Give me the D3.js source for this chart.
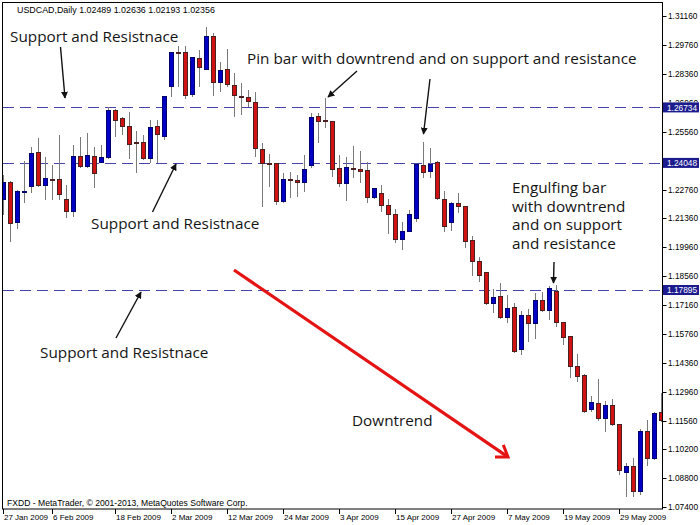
<!DOCTYPE html>
<html><head><meta charset="utf-8">
<script src="https://cdn.jsdelivr.net/npm/d3@7"></script>
<style>body{margin:0;background:#fff}svg{display:block}</style>
</head><body>
<svg id="c" width="700" height="525"></svg>
<script>
// ---- data ----
const symbolTitle = "USDCAD,Daily  1.02489 1.02636 1.02193 1.02356";
const footerText = "FXDD - MetaTrader, \u00A9 2001-2013, MetaQuotes Software Corp.";
const open = [1.2226,1.2308,1.2115,1.2260,1.2289,1.2454,1.2294,1.2323,1.2323,1.2226,
1.2168,1.2434,1.2386,1.2434,1.2405,1.2429,1.2657,1.2618,1.2579,1.2502,
1.2502,1.2424,1.2579,1.2531,1.2773,1.2938,1.2938,1.2734,1.2908,1.2855,
1.3015,1.2792,1.2855,1.2778,1.2725,1.2720,1.2696,1.2468,1.2400,1.2400,
1.2216,1.2323,1.2318,1.2308,1.2391,1.2628,1.2608,1.2604,1.2376,1.2303,
1.2376,1.2371,1.2366,1.2236,1.2255,1.2197,1.2153,1.2032,1.2071,1.2134,
1.2391,1.2362,1.2405,1.2226,1.2115,1.2207,1.2192,1.2028,1.1926,1.1873,
1.1723,1.1757,1.1655,1.1703,1.1500,1.1665,1.1626,1.1737,1.1689,1.1781,
1.1631,1.1563,1.1418,1.1374,1.1210,1.1239,1.1166,1.1229,1.1137,1.0905,
1.0934,1.0813,1.1103,1.0972,1.1195];
const high = [1.2347,1.2318,1.2274,1.2415,1.2483,1.2526,1.2434,1.2395,1.2541,1.2299,
1.2492,1.2531,1.2550,1.2483,1.2492,1.2676,1.2666,1.2628,1.2652,1.2560,
1.2541,1.2613,1.2613,1.2729,1.2942,1.2971,1.2971,1.2918,1.2952,1.3063,
1.3034,1.2894,1.2957,1.2841,1.2792,1.2758,1.2749,1.2502,1.2449,1.2405,
1.2357,1.2362,1.2347,1.2444,1.2647,1.2647,1.2720,1.2604,1.2444,1.2434,
1.2487,1.2463,1.2410,1.2284,1.2299,1.2231,1.2182,1.2120,1.2178,1.2400,
1.2507,1.2478,1.2415,1.2270,1.2216,1.2260,1.2197,1.2052,1.1950,1.1878,
1.1795,1.1824,1.1766,1.1728,1.1689,1.1698,1.1776,1.1781,1.1810,1.1815,
1.1636,1.1568,1.1481,1.1384,1.1277,1.1360,1.1253,1.1263,1.1142,1.0953,
1.0977,1.1118,1.1161,1.1200,1.1292];
const low = [1.2153,1.2023,1.2086,1.2212,1.2260,1.2289,1.2226,1.2226,1.2226,1.2139,
1.2144,1.2381,1.2381,1.2284,1.2405,1.2424,1.2531,1.2541,1.2424,1.2357,
1.2420,1.2405,1.2405,1.2516,1.2725,1.2773,1.2715,1.2725,1.2773,1.2855,
1.2729,1.2749,1.2773,1.2628,1.2637,1.2676,1.2434,1.2192,1.2289,1.2202,
1.2212,1.2236,1.2241,1.2265,1.2381,1.2502,1.2575,1.2337,1.2289,1.2221,
1.2333,1.2308,1.2212,1.2231,1.2168,1.2061,1.2018,1.1984,1.2071,1.2120,
1.2333,1.2333,1.2226,1.2071,1.2076,1.2163,1.1994,1.1858,1.1829,1.1718,
1.1679,1.1650,1.1631,1.1486,1.1476,1.1539,1.1553,1.1684,1.1645,1.1611,
1.1524,1.1365,1.1345,1.1195,1.1200,1.1156,1.1103,1.1132,1.0895,1.0789,
1.0789,1.0798,1.0939,1.0968,1.1152];
const close = [1.2308,1.2110,1.2265,1.2265,1.2449,1.2294,1.2328,1.2318,1.2250,1.2168,
1.2434,1.2386,1.2439,1.2352,1.2429,1.2657,1.2608,1.2579,1.2492,1.2497,
1.2424,1.2575,1.2541,1.2725,1.2938,1.2933,1.2729,1.2913,1.2865,1.3015,
1.2792,1.2850,1.2783,1.2729,1.2720,1.2700,1.2473,1.2400,1.2395,1.2216,
1.2323,1.2318,1.2308,1.2371,1.2623,1.2604,1.2604,1.2371,1.2303,1.2381,
1.2371,1.2362,1.2236,1.2279,1.2197,1.2153,1.2032,1.2071,1.2153,1.2395,
1.2357,1.2395,1.2231,1.2095,1.2207,1.2192,1.2023,1.1926,1.1858,1.1723,
1.1752,1.1655,1.1698,1.1490,1.1665,1.1626,1.1737,1.1689,1.1795,1.1631,
1.1558,1.1418,1.1369,1.1200,1.1244,1.1166,1.1229,1.1137,1.0914,1.0934,
1.0813,1.1103,1.0972,1.1190,1.1156];
const xTickLabels = ["27 Jan 2009","6 Feb 2009","18 Feb 2009","2 Mar 2009","12 Mar 2009","24 Mar 2009",
  "3 Apr 2009","15 Apr 2009","27 Apr 2009","7 May 2009","19 May 2009","29 May 2009"];
const xTickIndex = [0,7,16,24,32,40,48,56,64,72,80,88];
const yTicks = [1.31160,1.29760,1.28360,1.26960,1.25560,1.24160,1.22760,1.21360,1.19960,
  1.18560,1.17160,1.15760,1.14360,1.12960,1.11560,1.10200,1.08800,1.07400];
const levels = [1.26734,1.24048,1.17895];

// ---- layout ----
const svg = d3.select("#c");
const P = {l:3, t:3, r:662.5, b:509};
const x = d3.scaleLinear().domain([0, open.length-1]).range([2.7, 2.7 + 7*(open.length-1)]);
const y = d3.scaleLinear().domain([1.074, 1.3116]).range([506.8, 16]);
const smallFont = "'Liberation Sans', Arial, sans-serif";
const bigFont = "'Open Sans', 'Noto Sans', sans-serif";

svg.append("rect").attr("width",700).attr("height",525).attr("fill","#fff");
svg.append("defs").append("clipPath").attr("id","plotclip")
  .append("rect").attr("x",P.l).attr("y",P.t).attr("width",P.r-P.l).attr("height",P.b-P.t);

const plot = svg.append("g").attr("clip-path","url(#plotclip)");

// level lines
plot.selectAll("line.lvl").data(levels).join("line")
  .attr("x1",P.l).attr("x2",P.r)
  .attr("y1",d=>Math.round(y(d))+0.5).attr("y2",d=>Math.round(y(d))+0.5)
  .attr("stroke","#4444aa").attr("stroke-width",1).attr("stroke-dasharray","11,6");

// candles
const data = open.map((o,i)=>({i,o,h:high[i],l:low[i],c:close[i]}));
const cg = plot.append("g").attr("shape-rendering","crispEdges");
const cand = cg.selectAll("g").data(data).join("g");
cand.append("line")
  .attr("x1",d=>Math.round(x(d.i))+0.5).attr("x2",d=>Math.round(x(d.i))+0.5)
  .attr("y1",d=>y(d.h)).attr("y2",d=>y(d.l))
  .attr("stroke","#7a7a7a").attr("stroke-width",1);
cand.append("rect")
  .attr("x",d=>Math.round(x(d.i))-1.5)
  .attr("width",4)
  .attr("y",d=>Math.min(y(d.o),y(d.c)))
  .attr("height",d=>Math.max(0.6,Math.abs(y(d.o)-y(d.c))))
  .attr("fill",d=>d.c>=d.o?"#0000c4":"#d01212")
  .attr("stroke",d=>d.c>=d.o?"#00006e":"#4a2020")
  .attr("stroke-width",1);

// frame
svg.append("rect").attr("x",P.l-0.5).attr("y",P.t-0.5).attr("width",P.r-P.l+0.5).attr("height",P.b-P.t+0.5)
  .attr("fill","none").attr("stroke","#000").attr("stroke-width",1);

// y axis (tick 1.24160 is fully covered by the 1.24048 price box in the reference)
const yAxis = svg.append("g");
yAxis.selectAll("line").data(yTicks).join("line")
  .attr("x1",P.r).attr("x2",P.r+4)
  .attr("y1",d=>Math.round(y(d))+0.5).attr("y2",d=>Math.round(y(d))+0.5)
  .attr("stroke","#000");
svg.append("defs").append("clipPath").attr("id","yclip")
  .append("rect").attr("x",663).attr("y",0).attr("width",37).attr("height",y(1.26734)-5);
yAxis.selectAll("text").data(yTicks.filter(d=>d!==1.24160)).join("text")
  .attr("x",668).attr("y",d=>y(d)+3)
  .attr("clip-path",d=>d===1.26960?"url(#yclip)":null)
  .attr("font-family",smallFont).attr("font-size",8.3).attr("fill","#000")
  .text(d=>d.toFixed(5));
// level price boxes
const lb = svg.append("g").selectAll("g").data(levels).join("g");
lb.append("rect").attr("x",663).attr("width",36).attr("y",d=>y(d)-5).attr("height",10).attr("fill","#1c1c8e");
lb.append("text").attr("x",667).attr("y",d=>y(d)+3.2)
  .attr("font-family",smallFont).attr("font-size",8.3).attr("fill","#fff").text(d=>d.toFixed(5));

// x axis
const xAxis = svg.append("g");
xAxis.selectAll("line").data(xTickIndex).join("line")
  .attr("x1",d=>Math.round(x(d))+0.5).attr("x2",d=>Math.round(x(d))+0.5)
  .attr("y1",P.b).attr("y2",P.b+5).attr("stroke","#000");
xAxis.selectAll("text").data(xTickIndex).join("text")
  .attr("x",d=>Math.round(x(d))+1).attr("y",520)
  .attr("font-family",smallFont).attr("font-size",8).attr("fill","#000")
  .text((d,i)=>xTickLabels[i]);

// header & footer
svg.append("text").attr("x",17).attr("y",12.5).attr("font-family",smallFont).attr("font-size",8.9)
  .attr("fill","#000").text(symbolTitle);
svg.append("text").attr("x",7).attr("y",506).attr("font-family",smallFont).attr("font-size",8.6)
  .attr("fill","#000").text(footerText);

// annotations
svg.append("defs").append("marker").attr("id","ah").attr("viewBox","0 0 10 10")
  .attr("refX",9).attr("refY",5).attr("markerWidth",7).attr("markerHeight",7)
  .attr("orient","auto-start-reverse").attr("markerUnits","userSpaceOnUse")
  .append("path").attr("d","M0,0 L10,5 L0,10 z").attr("fill","#111");
const ann = svg.append("g");
function txt(xp,yp,s){ann.append("text").attr("x",xp).attr("y",yp).attr("font-family",bigFont)
  .attr("font-size",15.3).attr("fill","#151515").text(s);}
function arrow(x1,y1,x2,y2){ann.append("line").attr("x1",x1).attr("y1",y1).attr("x2",x2).attr("y2",y2)
  .attr("stroke","#111").attr("stroke-width",1.4).attr("marker-end","url(#ah)");}
txt(10,42,"Support and Resistnace");
arrow(60.5,47,65,98);
txt(91,229,"Support and Resistnace");
arrow(152.5,212,176,164);
txt(40,358,"Support and Resistnace");
arrow(116,338,141,292);
txt(247,64,"Pin bar with downtrend and on support and resistance");
arrow(357,71,328,97);
arrow(430,79,423.5,134);
["Engulfing bar","with downtrend","and on support","and resistance"].forEach((s,i)=>txt(512,193+i*18.5,s));
arrow(554,262,553.5,283);
txt(352,426,"Downtrend");

// red trend arrow
const a0=[234,270], a1=[508,457];
ann.append("line").attr("x1",a0[0]).attr("y1",a0[1]).attr("x2",a1[0]-2).attr("y2",a1[1]-1.4)
  .attr("stroke","#e41414").attr("stroke-width",3.2);
const ang = Math.atan2(a1[1]-a0[1],a1[0]-a0[0]);
const bl=13, ba=0.6;
const b1=[a1[0]-bl*Math.cos(ang-ba), a1[1]-bl*Math.sin(ang-ba)];
const b2=[a1[0]-bl*Math.cos(ang+ba), a1[1]-bl*Math.sin(ang+ba)];
ann.append("path").attr("d",`M${b1[0]},${b1[1]}L${a1[0]},${a1[1]}L${b2[0]},${b2[1]}`)
  .attr("fill","none").attr("stroke","#e41414").attr("stroke-width",3).attr("stroke-linejoin","miter");
</script>
</body></html>
